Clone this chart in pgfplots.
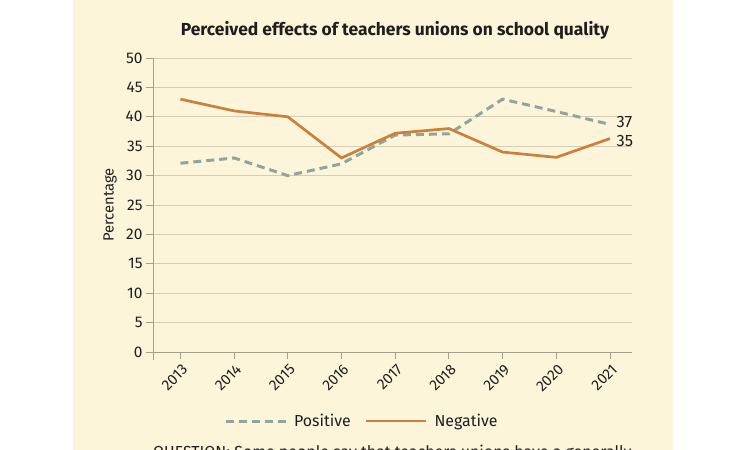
\documentclass[border=0pt]{standalone}
\usepackage{fontspec}
\setmainfont{Fira Sans}
\usepackage{pgfplots}
\pgfplotsset{compat=1.18}
\definecolor{bg}{RGB}{253,245,218}
\definecolor{negc}{RGB}{205,128,60}
\definecolor{posc}{RGB}{143,166,160}
\definecolor{gridc}{RGB}{214,204,180}
\definecolor{axc}{RGB}{168,158,138}
\definecolor{txt}{RGB}{30,30,30}
\begin{document}
\begin{tikzpicture}
\useasboundingbox (0bp,0bp) rectangle (750bp,450bp);
\clip (0bp,0bp) rectangle (750bp,450bp);
\fill[white] (0bp,0bp) rectangle (750bp,450bp);
\fill[bg] (73bp,0bp) rectangle (673bp,450bp);
\node[font=\fontsize{17.5}{20}\selectfont\bfseries, text=txt] at (395bp,420bp) {Perceived effects of teachers unions on school quality};
\node[rotate=90, font=\fontsize{14.8}{17}\selectfont, text=txt] at (110bp,245bp) {Percentage};
\node[anchor=north west, inner sep=0pt, font=\fontsize{16}{18}\selectfont, text=txt] at (153bp,5bp) {QUESTION: Some people say that teachers unions have a generally};
\begin{axis}[
  at={(153bp,98bp)}, anchor=south west,
  scale only axis, width=479bp, height=294bp,
  xmin=2012.49, xmax=2021.41, ymin=0, ymax=50,
  axis x line*=bottom, axis y line*=left,
  axis line style={axc, line width=1bp},
  xtick={2013,2014,2015,2016,2017,2018,2019,2020,2021},
  xticklabels={2013,2014,2015,2016,2017,2018,2019,2020,2021},
  ytick={0,5,10,15,20,25,30,35,40,45,50},
  /pgf/number format/assume math mode=true,
  tick align=outside,
  major tick length=7bp,
  tick style={axc, line width=0.8bp},
  ymajorgrids, grid style={gridc, line width=0.8bp},
  yticklabel style={font=\fontsize{15.5}{17}\selectfont, text=txt},
  xticklabel style={font=\fontsize{15}{17}\selectfont, text=txt, rotate=45, anchor=east, xshift=1bp, yshift=-9bp},
  clip=false,
  legend style={at={(0.436,-0.235)}, anchor=center, draw=none, fill=none,
    font=\fontsize{16}{18}\selectfont, text=txt,
    /tikz/every even column/.append style={column sep=12bp}},
  legend columns=2,
  legend cell align=left,
  legend image code/.code={\draw[#1] (0bp,0bp) -- (60bp,0bp); \path (65bp,0bp);},
]
\addplot[posc, line width=3bp, dash pattern=on 8bp off 5bp] coordinates {
(2013,32.1) (2014,33.0) (2015,30.0) (2016,32.0) (2017,36.9) (2018,37.1) (2019,43.0) (2020,40.9) (2021,38.7)};
\addlegendentry{Positive}
\addplot[negc, line width=2.7bp] coordinates {
(2013,43.0) (2014,41.0) (2015,40.0) (2016,33.0) (2017,37.2) (2018,38.0) (2019,34.0) (2020,33.1) (2021,36.3)};
\addlegendentry{Negative}
\node[anchor=west, inner sep=0pt, font=\fontsize{16.5}{18}\selectfont, text=txt] at (axis cs:2021.12,39.1) {37};
\node[anchor=west, inner sep=0pt, font=\fontsize{16.5}{18}\selectfont, text=txt] at (axis cs:2021.12,35.8) {35};
\draw[axc, line width=1bp] (rel axis cs:0,0) -- ++(0bp,-8bp);
\end{axis}
\end{tikzpicture}
\end{document}
